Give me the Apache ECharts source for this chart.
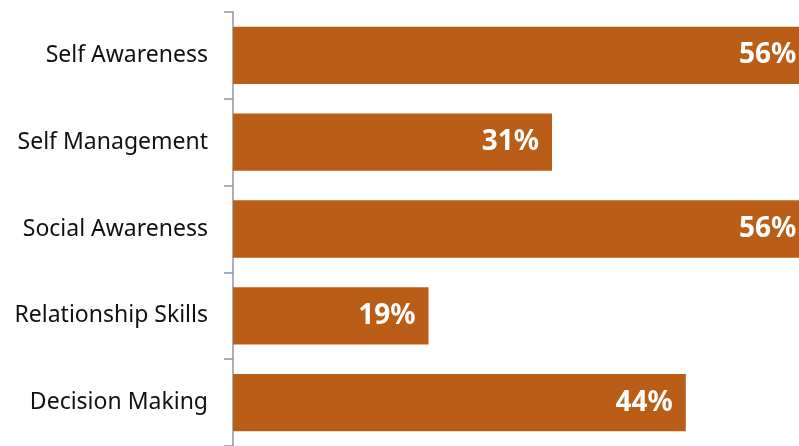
<!DOCTYPE html>
<html>
<head>
<meta charset="utf-8">
<script src="https://cdn.jsdelivr.net/npm/echarts@6/dist/echarts.min.js"></script>
<style>
  html, body { margin: 0; padding: 0; background: #ffffff; }
  #chart { width: 799px; height: 446px; }
</style>
</head>
<body>
<div id="chart"></div>
<script>
// Share of respondents per competency (percent)
const categories = ['Self Awareness', 'Self Management', 'Social Awareness', 'Relationship Skills', 'Decision Making'];
const values = [56, 31, 56, 19, 44];

const chart = echarts.init(document.getElementById('chart'), null, { renderer: 'canvas' });

chart.setOption({
  animation: false,
  backgroundColor: '#ffffff',
  grid: { left: 233, right: 0, top: 12, bottom: -2, containLabel: false },
  xAxis: {
    type: 'value',
    min: 0,
    max: 55,
    show: false
  },
  yAxis: {
    type: 'category',
    data: categories,
    inverse: true,
    axisLine: { show: true, lineStyle: { color: '#8c94a6', width: 1.5 } },
    axisTick: { show: true, length: 9, lineStyle: { color: '#8c94a6', width: 1.5 } },
    axisLabel: {
      margin: 25,
      color: '#111111',
      fontFamily: 'Noto Sans',
      fontSize: 23,
      padding: [3, 0, 0, 0]
    },
    splitLine: { show: false }
  },
  series: [{
    type: 'bar',
    data: values,
    barCategoryGap: '34%',
    clip: false,
    itemStyle: { color: '#ba5e17' },
    label: {
      show: true,
      position: 'insideRight',
      distance: 13,
      color: '#ffffff',
      fontFamily: 'Noto Sans',
      fontWeight: 'bold',
      fontSize: 28,
      padding: [4, 0, 0, 0],
      formatter: p => p.value + '%'
    }
  }]
});
</script>
</body>
</html>
